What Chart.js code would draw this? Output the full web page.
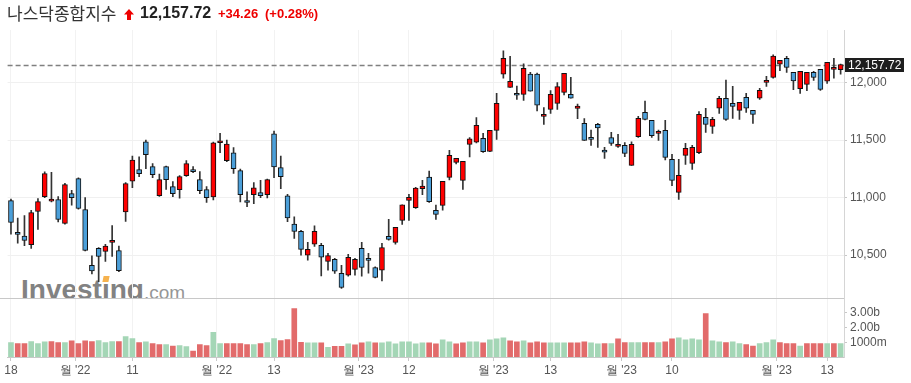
<!DOCTYPE html>
<html><head><meta charset="utf-8">
<script src="https://cdn.jsdelivr.net/npm/chart.js@4/dist/chart.umd.min.js"></script>
<style>
html,body{margin:0;padding:0;background:#fff;}
#wrap{position:relative;width:911px;height:383px;overflow:hidden;background:#fff;}
#logo{position:absolute;left:0;top:0;width:320px;height:298px;overflow:hidden;z-index:0;}
#lt{position:absolute;left:21px;top:274px;line-height:28px;white-space:nowrap;}
#lt .inv{font:bold 28px "Liberation Sans",Arial,sans-serif;color:#828282;}
#lt .com{font:19px "Liberation Sans",Arial,sans-serif;color:#969696;}
#dot{position:absolute;left:103px;top:276px;width:6px;height:6px;background:#f6b24e;transform:skewX(-12deg);}
canvas{position:absolute;left:0;top:0;z-index:1;}
#hdr{position:absolute;left:0;top:0;width:911px;height:28px;z-index:2;}
#hdr span{position:absolute;top:3px;line-height:20px;white-space:nowrap;}
#name{left:7px;font:17px "Noto Sans CJK KR",sans-serif;color:#333;}
#last{left:140px;font:bold 16px "Liberation Sans",Arial,sans-serif;color:#222;}
#chg{left:218px;font:bold 13px "Liberation Sans",Arial,sans-serif;color:#ee0000;top:4px !important;}
#pct{left:265px;font:bold 13px "Liberation Sans",Arial,sans-serif;color:#ee0000;top:4px !important;}
#arrow{position:absolute;left:124px;top:9px;}
</style>
</head><body>
<div id="wrap">
  <div id="logo"><div id="lt"><span class="inv">Investing</span><span class="com">.com</span></div><div id="dot"></div></div>
  <canvas id="c" width="911" height="383"></canvas>
  <div id="hdr">
    <span id="name">나스닥종합지수</span>
    <svg id="arrow" width="10" height="11" viewBox="0 0 10 11"><polygon points="5,0 10,5.5 7,5.5 7,11 3,11 3,5.5 0,5.5" fill="#ee0000"/></svg>
    <span id="last"></span>
    <span id="chg"></span>
    <span id="pct"></span>
  </div>
</div>
<script>
// ---- data ----
const open = [10974,10697,10665,10590,10879,11009,10968,10983,10775,11035,11165,10896,10410,10558,10532,10610,10538,10876,11142,11243,
11486,11269,11017,11269,11095,11069,11191,11243,11156,11069,11006,11477,11321,11390,11234,10974,11026,11043,11026,11555,
11260,11015,10770,10706,10500,10595,10584,10445,10462,10340,10326,10375,10558,10471,10392,10369,10662,10610,10801,10976,
10912,11077,11179,10889,10932,11176,11306,11150,11463,11481,11515,11402,11585,12073,11959,11907,11898,12075,12075,11707,
11768,11820,11916,11898,11776,11646,11524,11637,11414,11521,11446,11454,11280,11530,11742,11672,11559,11585,11333,11045,
11367,11298,11391,11698,11620,11777,11864,11820,11759,11872,11759,11864,12003,12046,12160,12212,12090,11948,11985,12090,
12116,12012,12116,12112];
const high = [10986,10821,10844,10890,10991,11223,11220,11009,11124,11064,11171,11000,10494,10564,10593,10757,10578,11130,11361,11355,
11500,11295,11205,11275,11139,11191,11321,11269,11226,11095,11483,11558,11500,11434,11249,11049,11130,11150,11160,11578,
11361,11028,10833,10714,10610,10755,10601,10514,10471,10410,10506,10471,10610,10514,10398,10601,10810,10741,10936,11028,
11089,11150,11231,10935,11141,11411,11341,11315,11521,11695,11559,11585,11907,12276,12230,11971,12163,12090,12084,11782,
11930,12000,12081,12046,11814,11687,11588,11646,11437,11568,11550,11478,11486,11707,11840,11672,11588,11672,11376,11333,
11472,11454,11748,11777,11698,11881,12023,11968,11829,11907,11759,11951,12055,12241,12194,12229,12090,12099,12090,12099,
12116,12177,12212,12162];
const low = [10682,10604,10581,10558,10723,11000,10962,10789,10769,10934,10899,10535,10335,10268,10445,10488,10356,10792,11087,11182,
11251,11173,11010,11072,11009,10994,11185,11217,11035,10957,10980,11390,11312,11211,10962,10922,10948,11000,10997,11173,
11078,10790,10645,10500,10456,10575,10318,10369,10340,10209,10317,10326,10317,10343,10300,10276,10630,10595,10767,10801,
10906,11025,10958,10810,10891,11153,11292,11071,11353,11475,11393,11400,11507,12038,11959,11855,11846,11925,11753,11637,
11733,11768,11893,11864,11687,11498,11454,11437,11341,11454,11437,11356,11280,11524,11675,11524,11498,11327,11103,10984,
11289,11245,11382,11568,11559,11733,11672,11689,11681,11742,11646,11855,11968,12038,12104,12090,11939,11907,11930,12020,
11933,11994,12038,12073];
const close = [10783,10679,10627,10870,10965,11208,10986,10809,11113,11000,10905,10540,10361,10488,10578,10627,10364,11121,11327,11208,
11373,11199,11156,11156,11035,11182,11295,11226,11061,11000,11477,11494,11465,11251,11026,10957,11084,11017,11156,11266,
11182,10823,10706,10549,10549,10706,10481,10495,10360,10218,10481,10462,10392,10453,10305,10566,10636,10741,10936,11002,
11083,11100,10964,10854,11141,11367,11341,11315,11512,11629,11399,11585,11820,12212,12012,11890,12125,11925,11803,11724,
11898,11965,12081,11864,11797,11498,11507,11605,11394,11472,11463,11385,11463,11689,11681,11539,11576,11350,11150,11193,
11428,11437,11724,11637,11681,11864,11681,11794,11829,11777,11724,11933,12020,12232,12194,12133,12015,12099,12090,12046,
11942,12177,12133,12157.72];
// volume in billions of shares
const volume = [0.98,0.91,0.91,1.05,0.91,1.03,1.05,0.98,0.98,1.10,0.91,1.10,1.05,1.12,0.98,1.05,1.05,1.39,1.26,0.98,
1.03,0.91,0.84,0.84,0.75,0.78,0.71,0.41,0.84,0.78,1.67,0.91,0.91,0.91,0.91,0.84,0.84,0.91,0.98,1.26,
1.12,1.19,3.29,1.00,0.96,0.96,0.96,0.66,0.73,0.73,0.89,0.82,0.96,1.03,0.96,0.96,1.03,0.89,1.03,1.03,
0.89,0.96,0.96,0.89,1.16,1.03,0.89,0.96,1.03,1.03,0.96,1.16,1.23,1.30,1.10,1.03,1.10,0.96,1.03,0.96,
0.96,0.96,0.96,0.96,0.96,1.03,0.96,0.89,0.91,0.91,1.23,0.98,0.98,0.98,0.98,0.98,0.98,1.03,1.23,1.30,
1.16,1.23,1.16,2.95,1.10,1.03,0.98,1.03,0.91,0.84,0.75,0.91,0.98,1.16,0.98,0.91,0.91,0.75,0.91,0.91,
0.91,0.91,0.91,0.91];
// 1 = volume bar drawn green (up day), 0 = red
const volumeUp = [1,0,0,1,1,1,0,0,1,0,0,0,0,1,1,1,0,1,1,0,
1,0,0,1,0,1,1,0,0,0,1,1,0,0,0,0,1,0,1,1,
0,0,0,0,1,1,0,1,0,0,1,0,0,1,0,1,1,1,1,1,
1,1,0,0,1,1,0,0,1,1,0,1,1,1,0,0,1,0,0,0,
1,1,1,0,0,0,1,1,0,1,0,0,1,1,0,0,1,0,0,1,
1,1,1,0,1,1,0,1,1,0,0,1,1,1,0,0,0,1,0,0,
0,1,0,1];
// x tick positions (in bar-index units) and their labels
const xTickValues = [0, 9.5, 18, 30.5, 39, 51.5, 59, 71.5, 80, 90.5, 98, 113.5, 121];
const xTickLabels = ["18","월 '22","11","월 '22","13","월 '23","12","월 '23","13","월 '23","10","월 '23","13"];
const priceTicks = [10500, 11000, 11500, 12000];
const volTickValues = [1, 2, 3];
const volTickLabels = ["1000m", "2.00b", "3.00b"];
const lastValue = 12157.72, lastChange = 34.26, lastChangePct = 0.28;
const panelSplitVolume = 4.0; // volume level where the price panel ends

// ---- header ----
const fmt2 = v => v.toLocaleString('en-US', {minimumFractionDigits:2, maximumFractionDigits:2});
document.getElementById('last').textContent = fmt2(lastValue);
document.getElementById('chg').textContent = '+' + fmt2(lastChange);
document.getElementById('pct').textContent = '(+' + fmt2(lastChangePct) + '%)';

// ---- chart ----
const FONT = '"Liberation Sans", Arial, sans-serif';
const AXIS_W = 67;
const UP = '#ff0000', DOWN = '#4b9fd9', VOL_UP = '#a4d6b6', VOL_DOWN = '#e26b6b';
const N = close.length;
const idx = close.map((_, i) => i);
const bodyData = idx.map(i => ({x: i, y: [open[i], close[i]]}));
const wickData = idx.map(i => ({x: i, y: [low[i], high[i]]}));
const volData = idx.map(i => ({x: i, y: volume[i]}));
const bodyColors = idx.map(i => close[i] >= open[i] ? UP : DOWN);
const volColors = volumeUp.map(u => u ? VOL_UP : VOL_DOWN);

const overlay = {
  id: 'overlay',
  afterLayout(chart) {
    // volume axis shares the right gutter with the price axis: widen its label clip box
    const s = chart.scales.yv;
    s.right = s.left + AXIS_W; s.width = AXIS_W;
  },
  beforeDatasetsDraw(chart) {
    const {ctx, chartArea: a, scales} = chart;
    ctx.save();
    const ys = Math.round(scales.yv.getPixelForValue(panelSplitVolume)) + 0.5;
    ctx.strokeStyle = '#c8c8c8'; ctx.lineWidth = 1;
    ctx.beginPath(); ctx.moveTo(0, ys); ctx.lineTo(a.right, ys); ctx.stroke();
    const yl = Math.round(scales.y.getPixelForValue(lastValue)) + 0.5;
    ctx.setLineDash([5, 3]); ctx.strokeStyle = '#808080'; ctx.lineWidth = 1.3;
    ctx.beginPath(); ctx.moveTo(a.left, yl); ctx.lineTo(a.right, yl); ctx.stroke();
    ctx.restore();
  },
  afterDraw(chart) {
    const {ctx, chartArea: a, scales} = chart;
    const yl = scales.y.getPixelForValue(lastValue);
    ctx.save();
    ctx.fillStyle = '#1e1e1e';
    ctx.fillRect(a.right + 1, Math.round(yl) - 7, 59, 14);
    ctx.fillStyle = '#ffffff'; ctx.font = '12px ' + FONT;
    ctx.textBaseline = 'middle'; ctx.textAlign = 'left';
    ctx.fillText(fmt2(lastValue), a.right + 4, Math.round(yl) + 0.5);
    ctx.restore();
  }
};

new Chart(document.getElementById('c'), {
  type: 'bar',
  data: { datasets: [
    {label: 'body', data: bodyData, yAxisID: 'y', backgroundColor: bodyColors, borderColor: '#111',
     borderWidth: 1, borderSkipped: false, barThickness: 5, minBarLength: 2, grouped: false, order: 0},
    {label: 'wick', data: wickData, yAxisID: 'y', backgroundColor: '#333', barThickness: 1, grouped: false, order: 1},
    {label: 'volume', data: volData, yAxisID: 'yv', backgroundColor: volColors, barThickness: 5, grouped: false, order: 2}
  ]},
  options: {
    responsive: false, animation: false, devicePixelRatio: 1, events: [],
    layout: {padding: {top: 30, left: 7.6, right: 0, bottom: 0}},
    plugins: {legend: {display: false}, tooltip: {enabled: false}},
    scales: {
      x: {
        type: 'linear', min: -0.5, max: N - 0.5, offset: false,
        afterBuildTicks: s => { s.ticks = xTickValues.map(v => ({value: v})); },
        afterFit: s => { s.height = 26; },
        grid: {offset: false, color: '#f2f2f2', tickLength: 4, tickColor: '#c8c8c8'},
        border: {color: '#c8c8c8'},
        ticks: {autoSkip: false, maxRotation: 0, padding: 2, color: '#555', font: {size: 12, family: FONT},
                callback: v => xTickLabels[xTickValues.indexOf(v)]}
      },
      y: {
        position: 'right', weight: 1, min: 9613, max: 12458,
        afterBuildTicks: s => { s.ticks = priceTicks.map(v => ({value: v})); },
        afterFit: s => { s.width = AXIS_W; },
        grid: {color: '#f0f0f0', tickLength: 3, tickColor: '#c8c8c8'},
        border: {color: '#d5d5d5'},
        ticks: {autoSkip: false, padding: 3, color: '#555', font: {size: 12, family: FONT},
                callback: v => v.toLocaleString('en-US')}
      },
      yv: {
        position: 'right', weight: 0, min: 0, max: 22.24,
        afterBuildTicks: s => { s.ticks = volTickValues.map(v => ({value: v})); },
        afterFit: s => { s.width = 0; },
        grid: {drawOnChartArea: false, tickLength: 3, tickColor: '#c8c8c8'},
        border: {display: false},
        ticks: {autoSkip: false, padding: 3, color: '#555', font: {size: 12, family: FONT},
                callback: v => volTickLabels[volTickValues.indexOf(v)]}
      }
    }
  },
  plugins: [overlay]
});
</script>
</body></html>
